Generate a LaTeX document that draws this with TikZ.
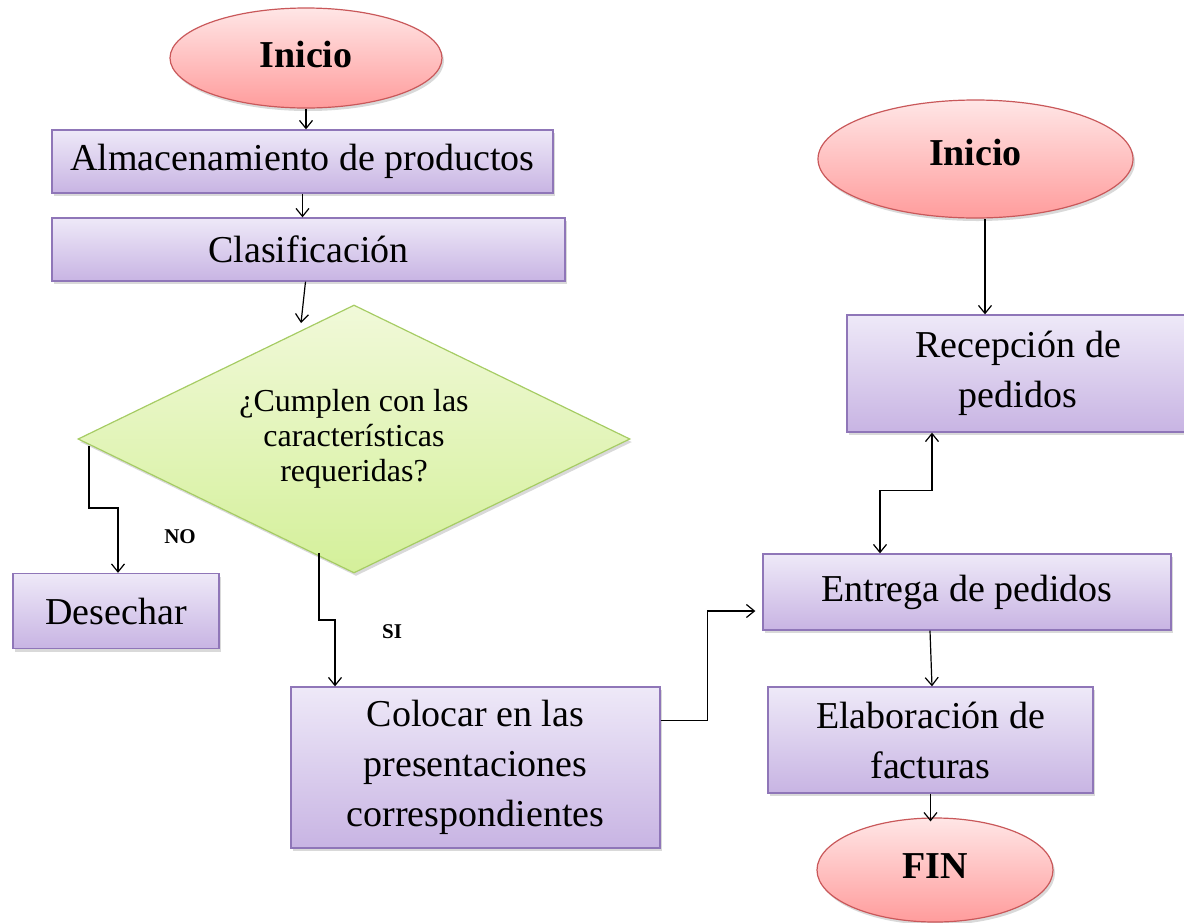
\documentclass[tikz,border=0pt]{standalone}
\usepackage{fontspec}
\setmainfont{Liberation Serif}
\usetikzlibrary{shapes.geometric,arrows.meta,shadows}
\definecolor{boxtop}{HTML}{EEE9F8}
\definecolor{boxbot}{HTML}{C8B4E3}
\definecolor{boxborder}{HTML}{8F76B8}
\definecolor{termtop}{HTML}{FFE6E6}
\definecolor{termbot}{HTML}{FF9C9C}
\definecolor{termborder}{HTML}{C9585A}
\definecolor{dectop}{HTML}{F1F9D9}
\definecolor{decbot}{HTML}{D4F09A}
\definecolor{decborder}{HTML}{A6CC64}
\begin{document}
\begin{tikzpicture}[x=1pt,y=-1pt,
  shadowed/.style={drop shadow={opacity=0.3,shadow xshift=2pt,shadow yshift=-3pt}},
  proc/.style={rectangle,draw=boxborder,line width=1.3pt,top color=boxtop,bottom color=boxbot,
    shadowed,font=\fontsize{38}{50}\selectfont,align=center,inner sep=0pt},
  term/.style={ellipse,draw=termborder,line width=1.2pt,top color=termtop,bottom color=termbot,
    shadowed,font=\fontsize{38}{46}\selectfont\bfseries,inner sep=0pt},
  decis/.style={diamond,draw=decborder,line width=1.2pt,top color=dectop,bottom color=decbot,
    shadowed,font=\fontsize{32}{35}\selectfont,align=center,inner sep=0pt,aspect=2.06},
  arr/.style={line width=1.2pt,-{Straight Barb[length=8pt,width=13pt]}},
  arrboth/.style={line width=1.2pt,{Straight Barb[length=8pt,width=13pt]}-{Straight Barb[length=8pt,width=13pt]}},
  lbl/.style={font=\fontsize{21}{24}\selectfont\bfseries}
]
\useasboundingbox (0,0) rectangle (1184,922);

% nodes
\node[term,minimum width=272pt,minimum height=100pt,text depth=8pt] (ini1) at (306,58) {Inicio};
\node[proc,minimum width=501pt,minimum height=63pt] (alm) at (302.5,161.5) {Almacenamiento de productos};
\node[proc,minimum width=513pt,minimum height=63pt] (cla) at (308.5,249.5) {Clasificación};
\node[decis,minimum width=552pt,minimum height=268pt] (dec) at (354,439) {¿Cumplen con las\\características\\requeridas?};
\node[proc,minimum width=206pt,minimum height=75pt] (des) at (116,611) {Desechar};
\node[proc,minimum width=369pt,minimum height=161pt] (col) at (475.5,767.5) {Colocar en las\\presentaciones\\correspondientes};
\node[term,minimum width=315pt,minimum height=118pt,text depth=14pt] (ini2) at (975.5,159) {Inicio};
\node[proc,minimum width=342pt,minimum height=117pt] (rec) at (1018,373.5) {Recepción de\\pedidos};
\node[proc,minimum width=408pt,minimum height=76pt] (ent) at (967,592) {Entrega de pedidos};
\node[proc,minimum width=325pt,minimum height=106pt] (ela) at (930.5,740) {Elaboración de\\facturas};
\node[term,minimum width=236pt,minimum height=104pt,text depth=8pt] (fin) at (935,870) {FIN};

\node[lbl] (no) at (180,537) {NO};
\node[lbl] (si) at (392,632) {SI};

% helper coordinates
\coordinate (d1) at (301,323);
\coordinate (noS) at (89,446);
\coordinate (siS) at (319,553);

% connectors
\draw[arr] (ini1.south) -- (ini1.south |- alm.north);
\draw[arr] (alm.south) -- (alm.south |- cla.north);
\draw[arr] ([xshift=-3pt]cla.south) -- (d1);
\draw[arr] (noS) -- ++(0,62) -| ([xshift=2pt]des.north);
\draw[arr] (siS) -- ++(0,67) -| ([xshift=-140.5pt]col.north);
\draw[arr] ([yshift=47pt]col.east) -- ++(47,0) |- ([shift={(-7pt,-19pt)}]ent.west);
\draw[arr] ([xshift=9.5pt]ini2.south) -- ([xshift=-33pt]rec.north);
\draw[arrboth] ([xshift=-86pt]rec.south) -- ++(0,58) -| ([xshift=-87pt]ent.north);
\draw[arr] ([xshift=-37pt]ent.south) -- ([xshift=1.5pt]ela.north);
\draw[arr] (ela.south) -- ([yshift=-4pt]ela.south |- fin.north);
\end{tikzpicture}
\end{document}
